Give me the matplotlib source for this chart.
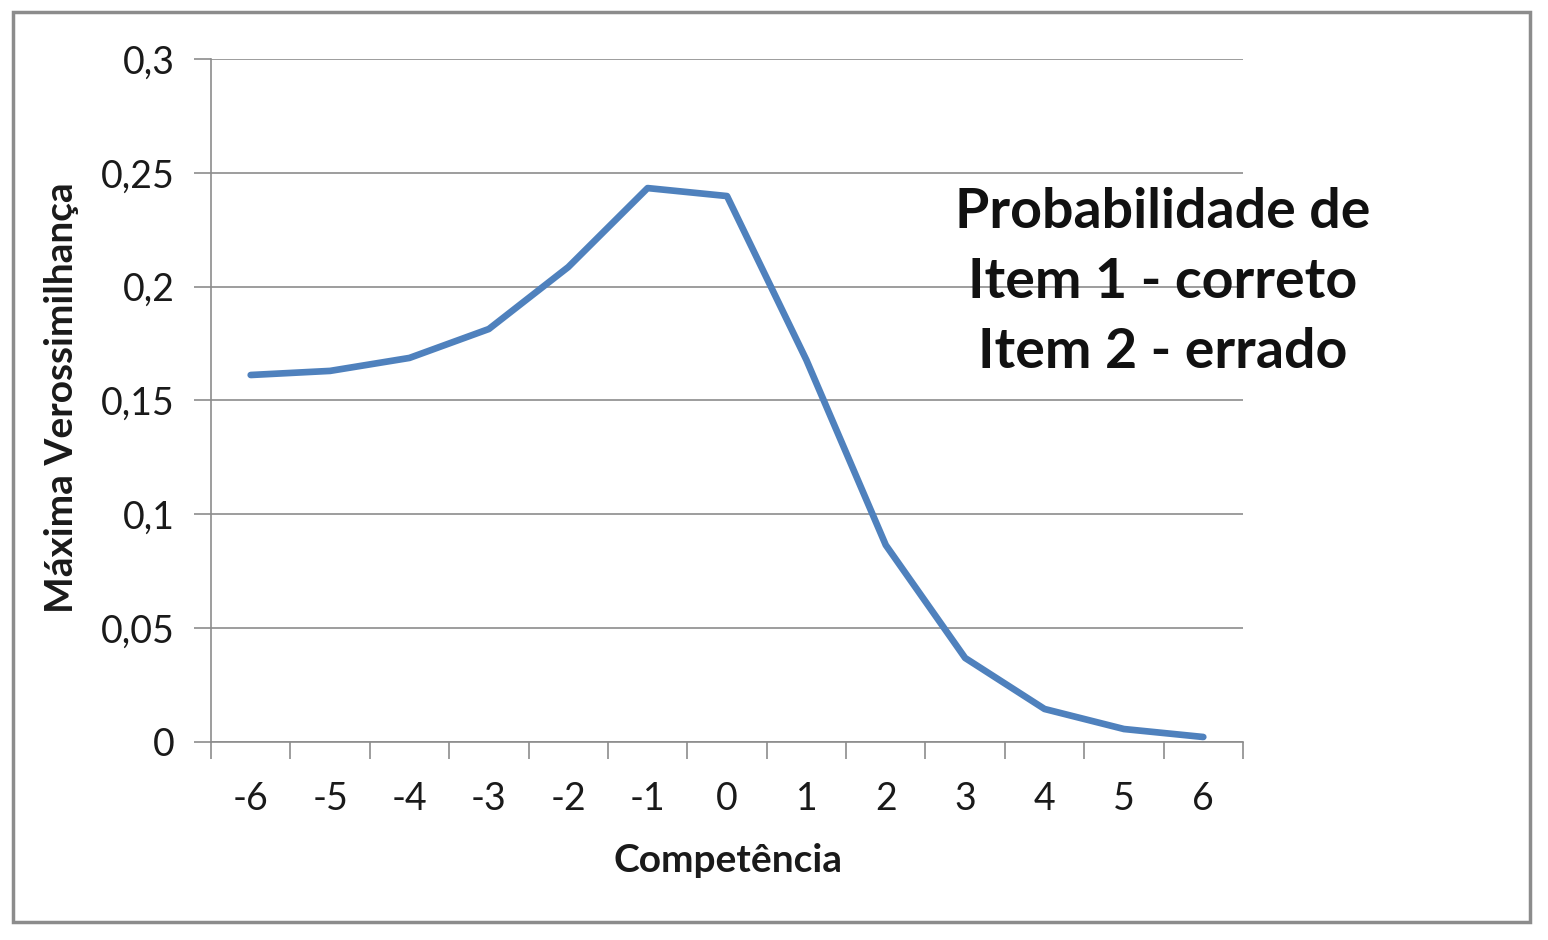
import matplotlib
matplotlib.use("Agg")
import matplotlib.pyplot as plt
from matplotlib.patches import Rectangle
import numpy as np

categories = ["-6", "-5", "-4", "-3", "-2", "-1", "0", "1", "2", "3", "4", "5", "6"]
values = [0.1612, 0.1630, 0.1687, 0.1814, 0.2086, 0.2433, 0.2398, 0.1678, 0.0865, 0.0369, 0.0145, 0.0057, 0.0022]
y_ticks = [0, 0.05, 0.1, 0.15, 0.2, 0.25, 0.3]
y_tick_labels = ["0", "0,05", "0,1", "0,15", "0,2", "0,25", "0,3"]

W, H = 1548, 940
fig = plt.figure(figsize=(W / 100, H / 100), dpi=100)
fig.patch.set_facecolor("white")
plt.rcParams['font.family'] = ['Lato', 'DejaVu Sans']

# outer chart border
fig.patches.append(Rectangle((13 / W, 1 - 922 / H), (1530 - 13) / W, (922 - 12) / H,
                             transform=fig.transFigure, fill=False,
                             edgecolor="#8c8c8c", linewidth=2.5))

ax = fig.add_axes([211 / W, 1 - 742 / H, (1243 - 211) / W, (742 - 59) / H])
x = np.arange(len(categories))
ax.plot(x, values, color="#4F81BD", linewidth=4.8, solid_capstyle="round", solid_joinstyle="round", zorder=3)

ax.set_xlim(-0.5, len(categories) - 0.5)
ax.set_ylim(0, 0.3)

ax.set_yticks(y_ticks)
ax.set_yticklabels(y_tick_labels, fontsize=27, color="#1a1a1a")
ax.set_xticks(x)
ax.set_xticklabels(categories, fontsize=27, color="#1a1a1a")
ax.set_xticks(np.arange(-0.5, len(categories)), minor=True)
ax.tick_params(axis="x", which="major", length=0, pad=28)
ax.tick_params(axis="x", which="minor", length=12, width=1.2, color="#8c8c8c")
ax.tick_params(axis="y", which="major", length=12, width=1.2, color="#8c8c8c", pad=14)

ax.grid(axis="y", color="#8c8c8c", linewidth=1.2)
ax.set_axisbelow(True)
for s in ["top", "right"]:
    ax.spines[s].set_visible(False)
for s in ["left", "bottom"]:
    ax.spines[s].set_color("#8c8c8c")
    ax.spines[s].set_linewidth(1.2)

fig.text(728 / W, 1 - 860 / H, "Competência", ha="center", va="center",
         fontsize=28, fontweight="bold", color="#1a1a1a")
fig.text(62 / W, 1 - 398 / H, "Máxima Verossimilhança", ha="center", va="center",
         rotation=90, fontsize=28, fontweight="bold", color="#1a1a1a")
fig.text(1163 / W, 1 - 282 / H, "Probabilidade de\nItem 1 - correto\nItem 2 - errado",
         ha="center", va="center", fontsize=40, fontweight="bold", color="#111111",
         linespacing=1.5)

fig.savefig("out.png", dpi=100, facecolor="white")
